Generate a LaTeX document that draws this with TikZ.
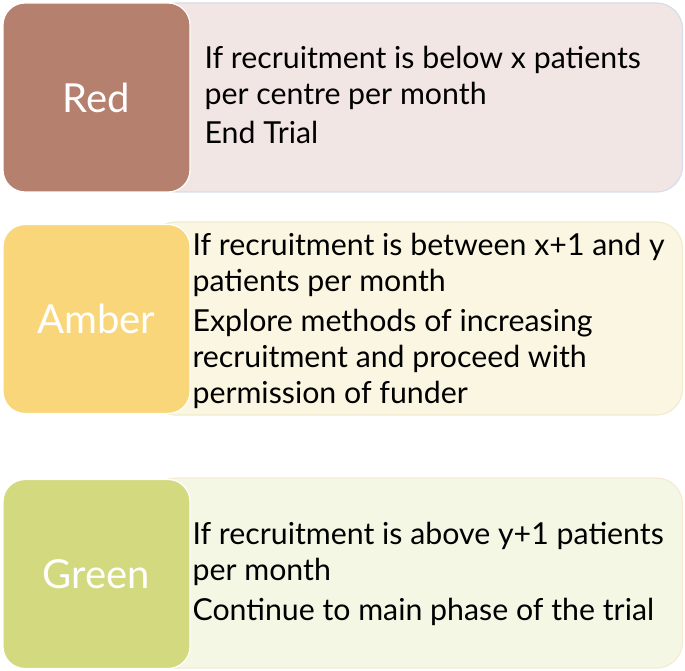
\documentclass[tikz,border=0pt]{standalone}
\usepackage{fontspec}
\setmainfont{Lato}
\usepackage{tikz}

\definecolor{redbox}{RGB}{181,128,110}
\definecolor{redback}{RGB}{242,230,228}
\definecolor{redline}{RGB}{214,221,234}
\definecolor{amberbox}{RGB}{249,214,122}
\definecolor{amberback}{RGB}{251,246,226}
\definecolor{amberline}{RGB}{240,236,205}
\definecolor{greenbox}{RGB}{211,217,126}
\definecolor{greenback}{RGB}{245,247,229}
\definecolor{greenline}{RGB}{246,234,214}

\tikzset{
  tag/.style={rounded corners=22pt, minimum width=187pt, minimum height=189pt,
    draw=white, line width=1.2pt, text=white, font=\fontsize{40}{46}\selectfont},
  back/.style={rounded corners=26pt, minimum width=533pt, line width=1.2pt},
  txt/.style={anchor=west, align=left, text=black, font=\fontsize{30.3}{36}\selectfont}
}

\begin{document}
\begin{tikzpicture}[x=1pt,y=-1pt]
\useasboundingbox (0,0) rectangle (685,671);

% red
\node[back, fill=redback, draw=redline, minimum height=189pt] (redb) at (416,97.5) {};
\node[tag, fill=redbox] (red) at (96.5,97.5) {Red};
\node[txt] (redt) at (201,95) {If recruitment is below x patients\\
per centre per month\\[3pt]
End Trial};

% amber
\node[back, fill=amberback, draw=amberline, minimum height=193pt] (amberb) at (416,318.5) {};
\node[tag, fill=amberbox] (amber) at (96.5,319) {Amber};
\node[txt] (ambert) at (189,321) {If recruitment is between x+1 and y\\
patients per month\\[4pt]
Explore methods of increasing\\
recruitment and proceed with\\
permission of funder};

% green
\node[back, fill=greenback, draw=greenline, minimum height=190pt] (greenb) at (416,573) {};
\node[tag, fill=greenbox] (green) at (96.5,574) {Green};
\node[txt] (greent) at (189,574) {If recruitment is above y+1 patients\\
per month\\[4pt]
Continue to main phase of the trial};
\end{tikzpicture}
\end{document}
